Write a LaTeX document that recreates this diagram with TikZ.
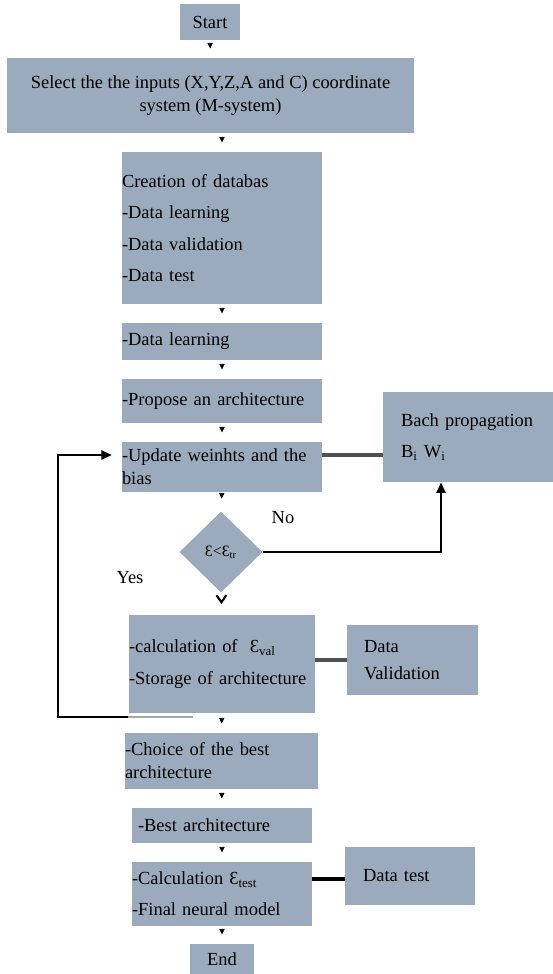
\documentclass[tikz,border=0pt]{standalone}
\usepackage{fontspec}
\setmainfont{Liberation Serif}
\usetikzlibrary{shapes.geometric,arrows.meta,calc}
\definecolor{boxfill}{RGB}{155,170,189}
\definecolor{linkgray}{RGB}{80,80,80}

\begin{document}
\begin{tikzpicture}[x=0.02cm, y=-0.02cm,
    box/.style={fill=boxfill, inner sep=0pt, font=\fontsize{10.5}{13}\selectfont},
    lbox/.style={box, align=left},
    wide/.style={font=\fontsize{10.5}{17.8}\selectfont},
    flow/.style={draw=white, -{Triangle[black, length=3.2pt, width=3pt]}, shorten >=5.2pt},
    link/.style={draw=linkgray, line width=1.8pt},
    back/.style={draw=black, line width=1.4pt, -{Triangle[length=6pt, width=5pt]}}]
    % 1. Page frame
    \useasboundingbox (0,0) rectangle (553,974);

    % 2. Main column
    \node[box, minimum width=12mm, minimum height=7.2mm] (start) at (210,22) {Start};
    \node[box, align=center, minimum width=81.4mm, minimum height=15mm] (select) at (210.5,95.5)
        {Select the the inputs (X,Y,Z,A and C) coordinate\\system (M-system)};
    \node[lbox, wide, text width=40mm, minimum height=30.4mm] (base) at (222,228)
        {Creation of databas\\-Data learning\\-Data validation\\-Data test};
    \node[lbox, text width=40mm, minimum height=7.4mm] (learn) at (222,341.5) {-Data learning};
    \node[lbox, text width=40mm, minimum height=8.8mm] (propose) at (222,401) {-Propose an architecture};
    \node[lbox, text width=40mm, minimum height=10mm] (update) at (222,467)
        {-Update weinhts and the\\bias};
    \node[box, diamond, aspect=1, minimum width=16.6mm, minimum height=16.2mm,
        font=\fontsize{9}{10}\selectfont] (test) at (221,552) {Ɛ<Ɛ\textsubscript{tr}};
    \node[lbox, wide, text width=37.2mm, minimum height=19.6mm] (calc) at (222,664)
        {-calculation of \ Ɛ\textsubscript{val}\\-Storage of architecture};
    \node[lbox, text width=38.6mm, minimum height=11.2mm] (choice) at (221.5,761)
        {-Choice of the best\\architecture};
    \node[lbox, inner xsep=1.2mm, text width=33.6mm, minimum height=7mm] (best) at (222,825.5)
        {-Best architecture};
    \node[lbox, wide, text width=36mm, minimum height=12.8mm] (ctest) at (222,894)
        {-Calculation Ɛ\textsubscript{test}\\-Final neural model};
    \node[box, minimum width=12.8mm, minimum height=6mm] (end) at (222,959) {End};

    % 3. Side boxes
    \node[lbox, wide, inner xsep=3.6mm, text width=26.8mm, minimum height=18mm] (bach) at (468,437)
        {Bach propagation\\B\textsubscript{i} W\textsubscript{i}};
    \node[lbox, font=\fontsize{10.5}{15}\selectfont, inner xsep=3.4mm, text width=19.4mm,
        minimum height=14mm] (valid) at (412.5,660) {Data\\Validation};
    \node[lbox, inner xsep=3.6mm, text width=18.8mm, minimum height=11.6mm] (dtest) at (410,876)
        {Data test\\[5mm]};

    % 4. Answers
    \node[font=\fontsize{10.5}{13}\selectfont] (no) at (283,518) {No};
    \node[font=\fontsize{10.5}{13}\selectfont] (yes) at (130,578) {Yes};

    % 5. Flow arrows
    \draw[flow] (start) -- (select);
    \draw[flow] (select.south -| base.north) -- (base);
    \draw[flow] (base) -- (learn);
    \draw[flow] (learn) -- (propose);
    \draw[flow] (propose) -- (update);
    \draw[flow, shorten >=7.4pt] (update) -- (test);
    \draw[draw=white, -{Straight Barb[black, line width=1.2pt, length=4pt, width=5.5pt]},
        shorten >=6pt] (test) -- (calc);
    \draw[flow] (calc) -- (choice);
    \draw[flow] (choice) -- (best);
    \draw[flow] (best) -- (ctest);
    \draw[flow] (ctest) -- (end);

    % 6. Links to the side boxes
    \coordinate (ua) at ($(update.east)+(0,-12)$);
    \draw[link] (ua) -- (ua -| bach.west);
    \draw[link] (valid.west -| calc.east) -- (valid.west);
    \coordinate (ta) at ($(dtest.west)+(0,3)$);
    \draw[link, draw=black] (ta -| ctest.east) -- (ta);

    % 7. No branch
    \coordinate (bp) at ($(bach.south)+(-27,0)$);
    \draw[back] (test.east) -| (bp);

    % 8. Loop back to the update
    \coordinate (loopstart) at (193,717);
    \coordinate (loopmid) at (128,717);
    \coordinate (loopin) at (112,455);
    \draw[line width=1.4pt, draw=black!35] (loopstart) -- (loopmid);
    \draw[back] (loopmid) -- (58,717) |- (loopin);
\end{tikzpicture}
\end{document}
